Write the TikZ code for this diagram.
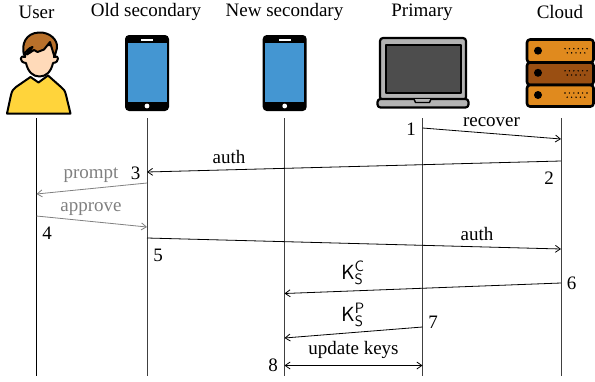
\documentclass[tikz,border=0pt]{standalone}
\usepackage{fontspec}
\setmainfont{Liberation Serif}
\usetikzlibrary{arrows.meta}
\DeclareMathSizes{20.5}{20.5}{15}{11}
\definecolor{phoneblue}{HTML}{4496D2}
\definecolor{shirt}{HTML}{FFD43B}
\definecolor{skin}{HTML}{FFDAB9}
\definecolor{hair}{HTML}{B8702A}
\definecolor{lapgray}{HTML}{B3B3B3}
\definecolor{lapdark}{HTML}{4D4D4D}
\definecolor{srvorange}{HTML}{E08A1E}
\definecolor{srvbrown}{HTML}{9A4F12}
\definecolor{msggray}{HTML}{808080}
\tikzset{
  lbl/.style={font=\fontsize{19}{21}\selectfont, inner sep=0pt, anchor=base},
  graylbl/.style={lbl, text=msggray},
  keylbl/.style={font=\fontsize{20.5}{22}\selectfont, inner sep=0pt, anchor=base},
  lifeline/.style={line width=0.8pt, black!75},
  msg/.style={line width=0.8pt, -{Straight Barb[length=5pt,width=7pt]}},
  graymsg/.style={msg, draw=msggray},
  bothmsg/.style={line width=0.8pt, {Straight Barb[length=5pt,width=7pt]}-{Straight Barb[length=5pt,width=7pt]}},
  icon/.style={line width=2pt, draw=black, line join=round},
  srv/.style={icon, line width=2.6pt, rounded corners=3pt},
}
\newcommand{\phoneicon}[1]{%
  \begin{scope}[shift={(#1,0)}]
    \fill[rounded corners=4pt] (-22,35) rectangle (22,111);
    \fill[phoneblue] (-19.5,42.5) rectangle (19.5,102);
    \fill[white] (-6,38.6) rectangle (6,40.6);
    \fill[white] (0,106) circle (2.4);
  \end{scope}}
\newcommand{\srvdots}[1]{%
  \fill (538,#1) circle (4);
  \foreach \dx in {0,4.4,8.8,13.2,17.6,22} \fill (565+\dx,#1-2) circle (0.8);
  \foreach \dx in {2.2,6.6,11,15.4,19.8} \fill (565+\dx,#1+2.2) circle (0.8);}
\begin{document}
\begin{tikzpicture}[x=1pt,y=-1pt]
\useasboundingbox (0,0) rectangle (595,381);
% titles
\node[lbl] (tuser) at (36.5,18) {User};
\node[lbl] (told) at (146,16) {Old secondary};
\node[lbl] (tnew) at (284.5,16) {New secondary};
\node[lbl] (tprim) at (422,16) {Primary};
\node[lbl] (tcloud) at (560,18) {Cloud};
% user icon
\draw[icon,fill=shirt] (30.5,77) -- (16,87) .. controls (13,89) and (12,91) .. (11,95) -- (7,113.5) -- (70.5,113.5) -- (66,95) .. controls (65,91) and (64,89) .. (61,87) -- (48,75.5) -- (38.5,82.5) -- cycle;
\draw[icon,fill=skin] (25,57) .. controls (20,54) and (18.5,62.5) .. (26,63) .. controls (28,72) and (33,76.5) .. (39.5,76.5) .. controls (46,76.5) and (51,72) .. (53,63) .. controls (60,62.5) and (59,54) .. (54,57) -- (54,45) -- (25,45) -- cycle;
\draw[icon,fill=hair] (24,55) .. controls (21,44) and (26,33) .. (39,32.5) .. controls (50,32) and (58,40) .. (57,48) -- (54.5,57) -- (50,42) -- (44,49.5) -- (37.5,52) -- (34,50) -- (27,54.5) -- (32.5,47) .. controls (29,48) and (26,51) .. (24,55) -- cycle;
% phones
\phoneicon{147}
\phoneicon{284.7}
% laptop
\draw[icon,line width=2.2pt,fill=lapgray,rounded corners=3pt] (380,100) -- (380,38) -- (466,38) -- (466,100) -- cycle;
\draw[icon,fill=lapdark] (385.5,44.5) rectangle (460.5,92.5);
\draw[icon,line width=2.2pt,fill=lapgray,rounded corners=3pt] (377.5,99) rectangle (468.5,107.5);
\draw[icon,line width=1.4pt,fill=lapgray] (414,99) -- (415.5,102.5) -- (429.5,102.5) -- (431,99);
% server
\draw[srv,fill=srvorange] (527,39.5) rectangle (593.5,62.5);
\draw[srv,fill=srvbrown] (527,62.5) rectangle (593.5,85);
\draw[srv,fill=srvorange] (527,85) rectangle (593.5,106.5);
\srvdots{50.7}
\srvdots{72.8}
\srvdots{95}
% lifelines
\coordinate (u0) at (36.5,118);  \coordinate (u1) at (36.5,376);
\coordinate (o0) at (147,118);   \coordinate (o1) at (147,376);
\coordinate (n0) at (284.5,118); \coordinate (n1) at (284.5,376);
\coordinate (p0) at (422.5,118); \coordinate (p1) at (422.5,376);
\coordinate (c0) at (561,118);   \coordinate (c1) at (561,376);
\draw[lifeline,black] (u0) -- (u1);
\draw[lifeline] (o0) -- (o1);
\draw[lifeline] (n0) -- (n1);
\draw[lifeline] (p0) -- (p1);
\draw[lifeline] (c0) -- (c1);
% messages
\coordinate (m1a) at (422.5,128);  \coordinate (m1b) at (561,139);
\coordinate (m2a) at (561,161);    \coordinate (m2b) at (147,172);
\coordinate (m3a) at (147,183);    \coordinate (m3b) at (36.5,194);
\coordinate (m4a) at (36.5,216);   \coordinate (m4b) at (147,227);
\coordinate (m5a) at (147,238);    \coordinate (m5b) at (561,249);
\coordinate (m6a) at (561,283);    \coordinate (m6b) at (284.5,293.5);
\coordinate (m7a) at (422.5,327);  \coordinate (m7b) at (284.5,338);
\coordinate (m8a) at (284.5,365.5);\coordinate (m8b) at (422.5,365.5);
\draw[msg] (m1a) -- (m1b);
\draw[msg] (m2a) -- (m2b);
\draw[graymsg] (m3a) -- (m3b);
\draw[graymsg] (m4a) -- (m4b);
\draw[msg] (m5a) -- (m5b);
\draw[msg] (m6a) -- (m6b);
\draw[msg] (m7a) -- (m7b);
\draw[bothmsg] (m8a) -- (m8b);
% labels
\node[lbl] (lrec) at (491.5,126) {recover};
\node[lbl] (lauth1) at (229,163) {auth};
\node[graylbl] (lprompt) at (91,178) {prompt};
\node[graylbl] (lapprove) at (91,211) {approve};
\node[lbl] (lauth2) at (477,240) {auth};
\node[keylbl] (lkc) at (353,279) {$\mathsf{K}_{\mathsf{S}}^{\mathsf{C}}$};
\node[keylbl] (lkp) at (353,321) {$\mathsf{K}_{\mathsf{S}}^{\mathsf{P}}$};
\node[lbl] (lupd) at (353.5,354) {update keys};
\node[lbl] (n1l) at (411,135) {1};
\node[lbl] (n2l) at (549,184) {2};
\node[lbl] (n3l) at (135.5,179) {3};
\node[lbl] (n4l) at (47,239) {4};
\node[lbl] (n5l) at (158,261) {5};
\node[lbl] (n6l) at (571.5,289) {6};
\node[lbl] (n7l) at (433,328) {7};
\node[lbl] (n8l) at (273,371) {8};
\end{tikzpicture}
\end{document}
